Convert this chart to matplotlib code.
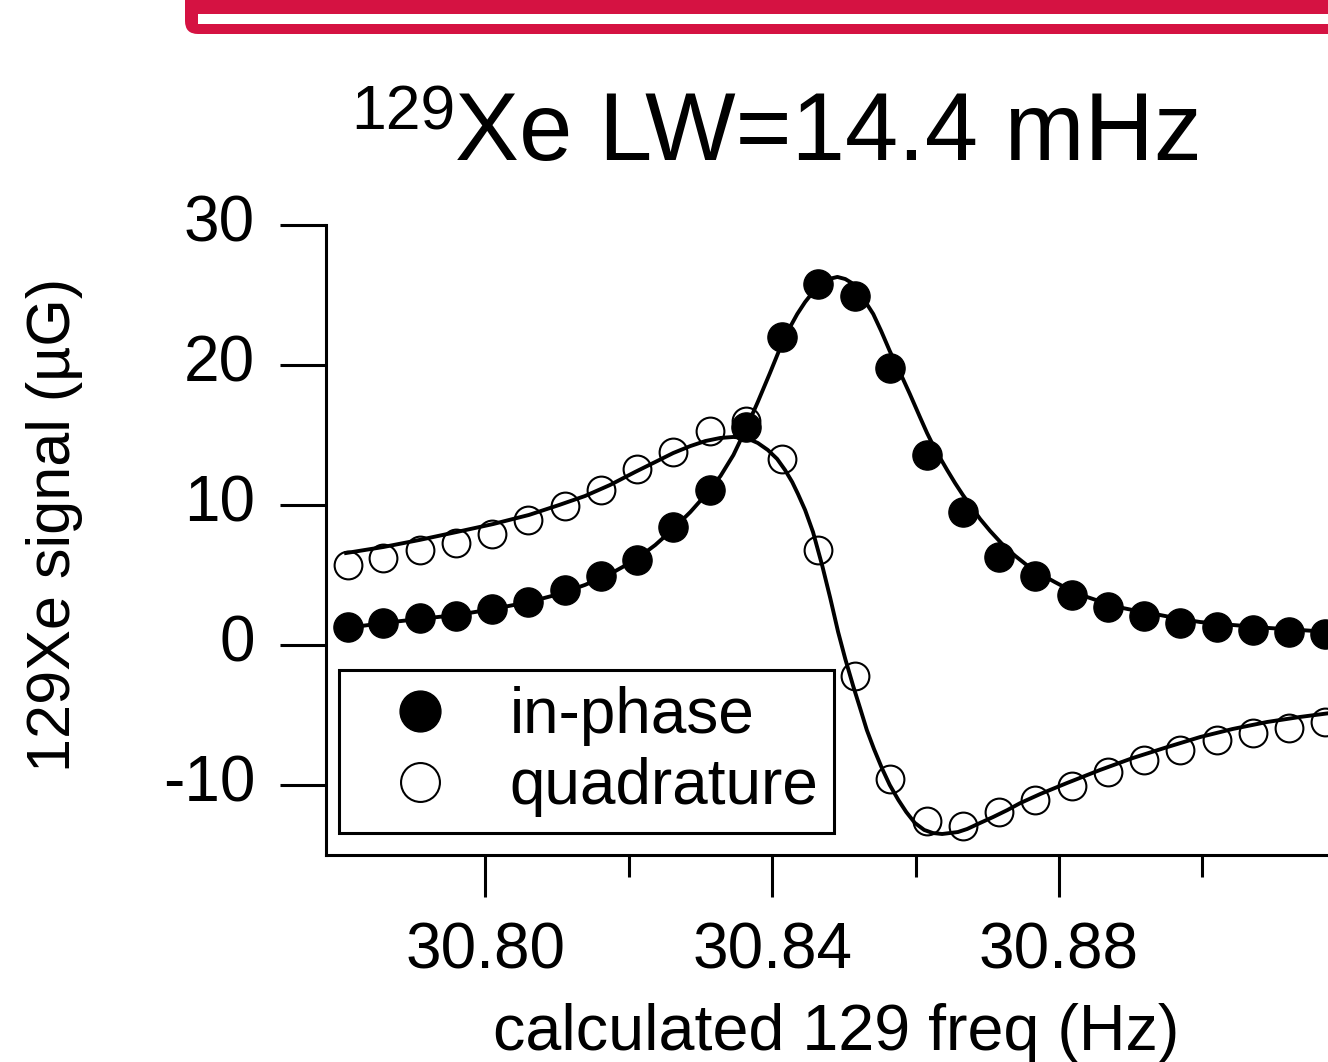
import matplotlib
matplotlib.use("Agg")
import matplotlib.pyplot as plt
from matplotlib.patches import FancyBboxPatch, Rectangle
from matplotlib.transforms import Affine2D, ScaledTranslation

plt.rcParams['font.family'] = ['Liberation Sans', 'DejaVu Sans']

# ---------------- data ----------------
freq = [30.7808, 30.7858, 30.7909, 30.7959, 30.8010, 30.8060, 30.8111,
        30.8161, 30.8212, 30.8262, 30.8313, 30.8363, 30.8414, 30.8464,
        30.8515, 30.8565, 30.8616, 30.8666, 30.8717, 30.8767, 30.8818,
        30.8868, 30.8919, 30.8969, 30.9020, 30.9070, 30.9121, 30.9171]
in_phase = [1.3, 1.6, 1.9, 2.1, 2.6, 3.1, 3.9, 4.9, 6.1, 8.4, 11.1, 15.6,
            22.0, 25.8, 24.9, 19.8, 13.6, 9.5, 6.3, 4.9, 3.6, 2.7, 2.1,
            1.6, 1.3, 1.1, 0.9, 0.8]
quadrature = [5.7, 6.2, 6.8, 7.3, 7.9, 8.9, 9.9, 11.1, 12.6, 13.8, 15.3,
              16.0, 13.3, 6.8, -2.2, -9.6, -12.6, -12.9, -11.9, -11.1,
              -10.1, -9.1, -8.2, -7.5, -6.8, -6.3, -5.9, -5.5]

# fitted curves
fit_in_x = [30.7806, 30.7858, 30.7908, 30.7960, 30.8011, 30.8061, 30.8103,
            30.8139, 30.8174, 30.8209, 30.8237, 30.8262, 30.8286, 30.8307,
            30.8328, 30.8346, 30.8364, 30.8380, 30.8397, 30.8414, 30.8425,
            30.8435, 30.8446, 30.8457, 30.8468, 30.8479, 30.8491, 30.8502,
            30.8511, 30.8523, 30.8532, 30.8541, 30.8552, 30.8564, 30.8578,
            30.8592, 30.8606, 30.8616, 30.8627, 30.8644, 30.8655, 30.8666,
            30.8679, 30.8690, 30.8704, 30.8722, 30.8739, 30.8755, 30.8774,
            30.8794, 30.8815, 30.8839, 30.8864, 30.8889, 30.8916, 30.8941,
            30.8969, 30.8997, 30.9042, 30.9094, 30.9136, 30.9178]
fit_in_y = [1.21, 1.57, 1.86, 2.14, 2.57, 3.07, 3.64, 4.29, 5.07, 6.07,
            7.14, 8.29, 9.5, 10.71, 12.07, 13.57, 15.5, 17.36, 19.43, 21.57,
            22.71, 23.64, 24.5, 25.21, 25.79, 26.14, 26.29, 26.14, 25.86,
            25.14, 24.36, 23.64, 22.43, 21.0, 19.5, 17.93, 16.29, 15.14,
            14.0, 12.5, 11.57, 10.71, 9.79, 9.0, 8.14, 7.14, 6.36, 5.71,
            5.07, 4.5, 3.93, 3.43, 3.0, 2.64, 2.36, 2.14, 1.86, 1.64, 1.43,
            1.21, 1.07, 0.93]
fit_q_x = [30.7806, 30.7858, 30.7908, 30.7960, 30.8011, 30.8061, 30.8103,
           30.8139, 30.8174, 30.8209, 30.8237, 30.8262, 30.8286, 30.8307,
           30.8328, 30.8346, 30.8364, 30.8380, 30.8394, 30.8407, 30.8418,
           30.8428, 30.8436, 30.8446, 30.8457, 30.8470, 30.8481, 30.8492,
           30.8502, 30.8513, 30.8523, 30.8532, 30.8542, 30.8553, 30.8564,
           30.8576, 30.8587, 30.8599, 30.8612, 30.8624, 30.8637, 30.8648,
           30.8659, 30.8672, 30.8690, 30.8708, 30.8728, 30.8746, 30.8774,
           30.8811, 30.8857, 30.8903, 30.8951, 30.8997, 30.9042, 30.9090,
           30.9136, 30.9178]
fit_q_y = [6.57, 7.0, 7.5, 8.07, 8.64, 9.29, 10.0, 10.64, 11.43, 12.36,
           13.07, 13.71, 14.21, 14.57, 14.79, 14.86, 14.79, 14.43, 13.93,
           13.29, 12.5, 11.64, 10.79, 9.64, 8.07, 5.64, 3.36, 0.93, -1.0,
           -2.93, -4.57, -6.07, -7.43, -8.79, -10.0, -11.07, -11.93, -12.71,
           -13.21, -13.43, -13.5, -13.43, -13.36, -13.14, -12.71, -12.29,
           -11.79, -11.29, -10.64, -9.86, -8.93, -8.07, -7.29, -6.57, -6.0,
           -5.5, -5.14, -4.86]

x_major = [30.80, 30.84, 30.88]
x_major_labels = ["30.80", "30.84", "30.88"]
x_minor = [30.82, 30.86, 30.90]
y_major = [-10, 0, 10, 20, 30]
y_major_labels = ["-10", "0", "10", "20", "30"]

# ---------------- figure ----------------
W, H = 1328, 1062
fig = plt.figure(figsize=(W / 100, H / 100), dpi=100)
fig.patch.set_facecolor('white')

# pixel transform with top-left origin (for the decorative header bar)
pix = Affine2D().scale(1, -1).translate(0, H)

red = '#D51242'
bar = FancyBboxPatch((185, -40), 1200, 74, boxstyle="round,pad=0,rounding_size=13",
                     transform=pix, facecolor=red, edgecolor='none')
fig.add_artist(bar)
stripe = Rectangle((198, 14), 1200, 10, transform=pix, facecolor='white',
                   edgecolor='none')
fig.add_artist(stripe)

ax = fig.add_axes([326 / W, 1 - 855 / H, (W - 326) / W, (855 - 225) / H])
ax.set_xlim(30.7778, 30.9175)
ax.set_ylim(-15, 30)

lw = 2.8
ax.plot(fit_in_x, fit_in_y, color='black', lw=lw, zorder=3,
        solid_joinstyle='round')
ax.plot(fit_q_x, fit_q_y, color='black', lw=lw, zorder=3,
        solid_joinstyle='round')
hq, = ax.plot(freq, quadrature, linestyle='none', marker='o', markersize=20,
              markerfacecolor='none', markeredgecolor='black',
              markeredgewidth=1.5, zorder=4)
hi, = ax.plot(freq, in_phase, linestyle='none', marker='o', markersize=21,
              markerfacecolor='black', markeredgecolor='black',
              markeredgewidth=1, zorder=5)

for s in ['top', 'right']:
    ax.spines[s].set_visible(False)
for s in ['left', 'bottom']:
    ax.spines[s].set_linewidth(2.2)

ax.set_xticks(x_major)
ax.set_xticklabels(x_major_labels)
ax.set_xticks(x_minor, minor=True)
ax.set_yticks(y_major)
ax.set_yticklabels(y_major_labels)
ax.tick_params(axis='y', which='major', direction='out', length=33, width=2.2,
               pad=18, labelsize=46)
ax.tick_params(axis='x', which='major', direction='out', length=30, width=2.2,
               pad=18, labelsize=46)
ax.tick_params(axis='x', which='minor', direction='out', length=16, width=2.2)
for lab in ax.get_yticklabels():
    lab.set_transform(lab.get_transform() + ScaledTranslation(0, 7 / 100, fig.dpi_scale_trans))

leg = ax.legend(handles=[hi, hq], labels=['in-phase', 'quadrature'],
                loc='upper left', bbox_to_anchor=(339 / W, 1 - 670 / H),
                bbox_transform=fig.transFigure, borderaxespad=0,
                fontsize=46, markerscale=1.4, fancybox=False, framealpha=1,
                edgecolor='black', borderpad=0.25, labelspacing=0.18,
                handlelength=2.03, handletextpad=0.39)
leg.get_frame().set_linewidth(2.2)

# title
fig.text(455 / W, 1 - 160 / H, 'Xe LW=14.4 mHz', fontsize=69, ha='left',
         va='baseline')
fig.text(455 / W, 1 - 130 / H, '129', fontsize=45, ha='right', va='baseline')

# axis labels
fig.text(836 / W, 1 - 1050 / H, 'calculated 129 freq (Hz)', fontsize=46.5,
         ha='center', va='baseline')
fig.text(55 / W, 1 - 525 / H, '129Xe signal (µG)', fontsize=44, rotation=90,
         ha='center', va='center')

fig.savefig('out.png', dpi=100)
